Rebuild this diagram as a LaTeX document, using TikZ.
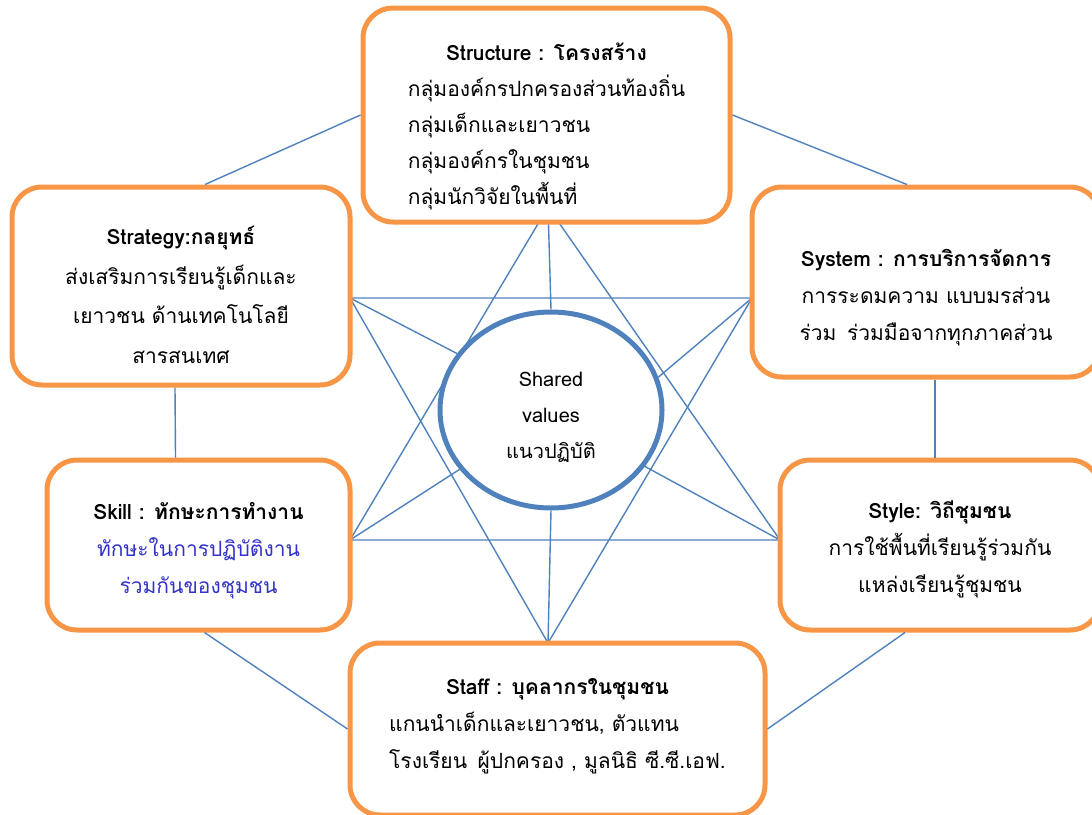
\documentclass[tikz,border=0pt]{standalone}
\usepackage{fontspec}
\setmainfont[Script=Thai]{Loma}
\usetikzlibrary{shapes.geometric}

\definecolor{boxorange}{RGB}{247,150,70}
\definecolor{starblue}{RGB}{79,129,189}
\definecolor{skillblue}{RGB}{51,51,204}

% lowers a block of lines inside its box
\newcommand{\lowered}[2]{\raisebox{-#1}[\height][\depth]{\begin{tabular}{@{}c@{}}#2\end{tabular}}}

\tikzset{
  elem/.style={draw=boxorange,line width=5pt,rounded corners=30pt,fill=white,
    align=center,inner sep=0pt,font=\fontsize{21}{37}\selectfont},
  core/.style={ellipse,draw=starblue,line width=5pt,fill=white,inner sep=0pt,
    align=center,minimum width=222,minimum height=196,font=\fontsize{20}{36}\selectfont},
  star/.style={draw=starblue,line width=1.4pt},
  link/.style={draw=starblue,line width=1.4pt}
}

\begin{document}
\begin{tikzpicture}[x=1pt,y=-1pt]
	\useasboundingbox (0,0) rectangle (1092,814);
	\clip (0,0) rectangle (1092,814);
	% points of the star
	\coordinate (p_top) at (548,207);
	\coordinate (p_tl) at (350,298);
	\coordinate (p_tr) at (752,298);
	\coordinate (p_bl) at (350,540);
	\coordinate (p_br) at (780,540);
	\coordinate (p_bot) at (548,643);
	\draw[star] (p_top) -- (p_bl) -- (p_br) -- cycle;
	\draw[star] (p_bot) -- (p_tl) -- (p_tr) -- cycle;
	\node[core] (values) at (551,410) {\lowered{5pt}{Shared\\values\\แนวปฏิบัติ}};
	\path[link]
		(p_tl) edge (values.149)
		(p_tr) edge (values.17)
		(p_bl) edge (values.213)
		(p_br) edge (values.329)
		(p_top) edge (values.north)
		(p_bot) edge (values.south);
	% the six boxes
	\node[elem,minimum width=367,minimum height=214,font=\fontsize{21}{36}\selectfont] (structure) at (546.5,115)
		{\lowered{10pt}{\textbf{Structure : โครงสร้าง}\\
		 \begin{tabular}[t]{@{}l@{}}กลุ่มองค์กรปกครองส่วนท้องถิ่น\\กลุ่มเด็กและเยาวชน\\กลุ่มองค์กรในชุมชน\\กลุ่มนักวิจัยในพื้นที่\end{tabular}}};
	\node[elem,minimum width=338,minimum height=198,font=\fontsize{21}{39.5}\selectfont] (strategy) at (181,286)
		{\lowered{10pt}{\textbf{Strategy:กลยุทธ์}\\ส่งเสริมการเรียนรู้เด็กและ\\เยาวชน ด้านเทคโนโลยี\\สารสนเทศ}};
	\node[elem,minimum width=348,minimum height=190] (system) at (926,282)
		{\lowered{14pt}{\textbf{System : การบริการจัดการ}\\การระดมความ แบบมรส่วน\\ร่วม\enspace ร่วมมือจากทุกภาคส่วน}};
	\node[elem,minimum width=303,minimum height=170] (skill) at (198.5,545)
		{\lowered{4pt}{\textbf{Skill : ทักษะการทำงาน}\\\textcolor{skillblue}{ทักษะในการปฏิบัติงาน}\\\textcolor{skillblue}{ร่วมกันของชุมชน}}};
	\node[elem,minimum width=320,minimum height=170] (style) at (940,545)
		{\lowered{3pt}{\textbf{Style: วิถีชุมชน}\\การใช้พื้นที่เรียนรู้ร่วมกัน\\แหล่งเรียนรู้ชุมชน}};
	\node[elem,minimum width=415,minimum height=172] (staff) at (557.5,729)
		{\textbf{Staff : บุคลากรในชุมชน}\\
		 \begin{tabular}[t]{@{}l@{}}แกนนำเด็กและเยาวชน, ตัวแทน\\โรงเรียน\enspace ผู้ปกครอง , มูลนิธิ ซี.ซี.เอฟ.\end{tabular}};
	% ring of links
	\path[link]
		([xshift=24]strategy.north) edge (structure.west)
		(structure.east) edge ([xshift=-19]system.north)
		([xshift=-6]strategy.south) edge ([xshift=-23]skill.north)
		([xshift=9]system.south) edge ([xshift=-5]style.north)
		([xshift=6]skill.south) edge (staff.west)
		([xshift=-35]style.south) edge (staff.east);
\end{tikzpicture}
\end{document}
